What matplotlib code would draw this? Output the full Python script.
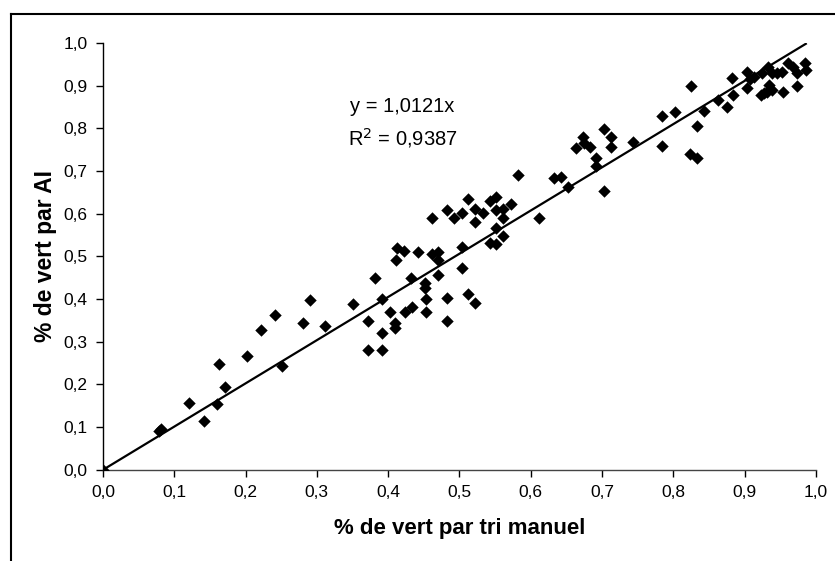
import numpy as np
import matplotlib
matplotlib.use("Agg")
import matplotlib.pyplot as plt
from matplotlib.lines import Line2D
from matplotlib.ticker import FuncFormatter

plt.rcParams["font.family"] = ["Liberation Sans", "DejaVu Sans"]

# % de vert par tri manuel (x) vs % de vert par AI (y)
manuel = [
    0.000, 0.078, 0.081, 0.120, 0.142, 0.160, 0.162, 0.171, 0.202, 0.221,
    0.241, 0.251, 0.280, 0.291, 0.312, 0.351, 0.372, 0.372, 0.381, 0.391,
    0.391, 0.391, 0.402, 0.410, 0.410, 0.411, 0.412, 0.422, 0.423, 0.432,
    0.433, 0.442, 0.452, 0.452, 0.453, 0.453, 0.462, 0.462, 0.470, 0.470,
    0.470, 0.482, 0.482, 0.482, 0.493, 0.503, 0.503, 0.503, 0.512, 0.512,
    0.522, 0.522, 0.522, 0.533, 0.543, 0.543, 0.552, 0.552, 0.552, 0.552,
    0.561, 0.561, 0.561, 0.572, 0.582, 0.612, 0.632, 0.643, 0.653, 0.663,
    0.673, 0.675, 0.683, 0.692, 0.691, 0.703, 0.703, 0.713, 0.713, 0.743,
    0.784, 0.784, 0.803, 0.825, 0.823, 0.833, 0.834, 0.843, 0.863, 0.875,
    0.883, 0.884, 0.903, 0.904, 0.907, 0.914, 0.923, 0.925, 0.933, 0.935,
    0.932, 0.938, 0.945, 0.954, 0.952, 0.961, 0.968, 0.973, 0.973, 0.985,
    0.986, 0.928, 0.938,
]
ai = [
    0.000, 0.090, 0.096, 0.156, 0.114, 0.153, 0.247, 0.195, 0.266, 0.327,
    0.362, 0.243, 0.343, 0.398, 0.337, 0.388, 0.349, 0.281, 0.449, 0.400,
    0.320, 0.281, 0.370, 0.343, 0.331, 0.491, 0.519, 0.513, 0.370, 0.449,
    0.382, 0.511, 0.437, 0.425, 0.401, 0.370, 0.591, 0.505, 0.511, 0.491,
    0.456, 0.609, 0.402, 0.349, 0.591, 0.601, 0.521, 0.472, 0.634, 0.411,
    0.610, 0.581, 0.390, 0.601, 0.630, 0.531, 0.640, 0.609, 0.566, 0.529,
    0.610, 0.589, 0.548, 0.623, 0.690, 0.591, 0.683, 0.685, 0.663, 0.753,
    0.780, 0.765, 0.755, 0.730, 0.712, 0.798, 0.653, 0.780, 0.755, 0.769,
    0.829, 0.758, 0.839, 0.900, 0.740, 0.730, 0.805, 0.840, 0.866, 0.851,
    0.917, 0.878, 0.933, 0.894, 0.915, 0.921, 0.878, 0.929, 0.944, 0.901,
    0.886, 0.929, 0.929, 0.884, 0.933, 0.952, 0.944, 0.929, 0.900, 0.952,
    0.937, 0.882, 0.890,
]

slope = 1.0121
r2 = 0.9387
ticks = [0.0, 0.1, 0.2, 0.3, 0.4, 0.5, 0.6, 0.7, 0.8, 0.9, 1.0]

fig = plt.figure(figsize=(8.35, 5.61), dpi=100)
ax = fig.add_axes([0.1234, 0.1626, 0.8536, 0.7609])

ax.scatter(manuel, ai, marker="D", s=40, color="black", zorder=3, linewidths=0)

# trend line through origin
xl = np.array([0.0, max(manuel)])
ax.plot(xl, slope * xl, color="black", linewidth=1.6, zorder=2)

ax.text(0.42, 0.852, "y = 1,0121x", ha="center", va="center", fontsize=14.5)
ax.text(0.42, 0.778, "R$^2$ = 0,9387", ha="center", va="center", fontsize=14.5)

ax.set_xlim(0, 1)
ax.set_ylim(0, 1)
ax.set_xticks(ticks)
ax.set_yticks(ticks)
fmt = FuncFormatter(lambda v, p: f"{v:.1f}".replace(".", ","))
ax.xaxis.set_major_formatter(fmt)
ax.yaxis.set_major_formatter(fmt)
ax.tick_params(direction="out", length=5, width=1, labelsize=12.5, pad=6)

for s in ["top", "right"]:
    ax.spines[s].set_visible(False)
ax.spines["left"].set_linewidth(1)
ax.spines["bottom"].set_linewidth(1)
ax.spines["bottom"].set_color("#444444")

ax.set_xlabel("% de vert par tri manuel", fontsize=16, fontweight="bold", labelpad=13)
ax.set_ylabel("% de vert par AI", fontsize=16.5, fontweight="bold", labelpad=5)

# outer chart frame (left and top edges visible in the scan)
fig.add_artist(Line2D([11 / 835, 11 / 835], [0, 1 - 14 / 561], color="black", lw=1.5))
fig.add_artist(Line2D([11 / 835, 1], [1 - 14 / 561, 1 - 14 / 561], color="black", lw=1.5))

fig.savefig("out.png", dpi=100)
